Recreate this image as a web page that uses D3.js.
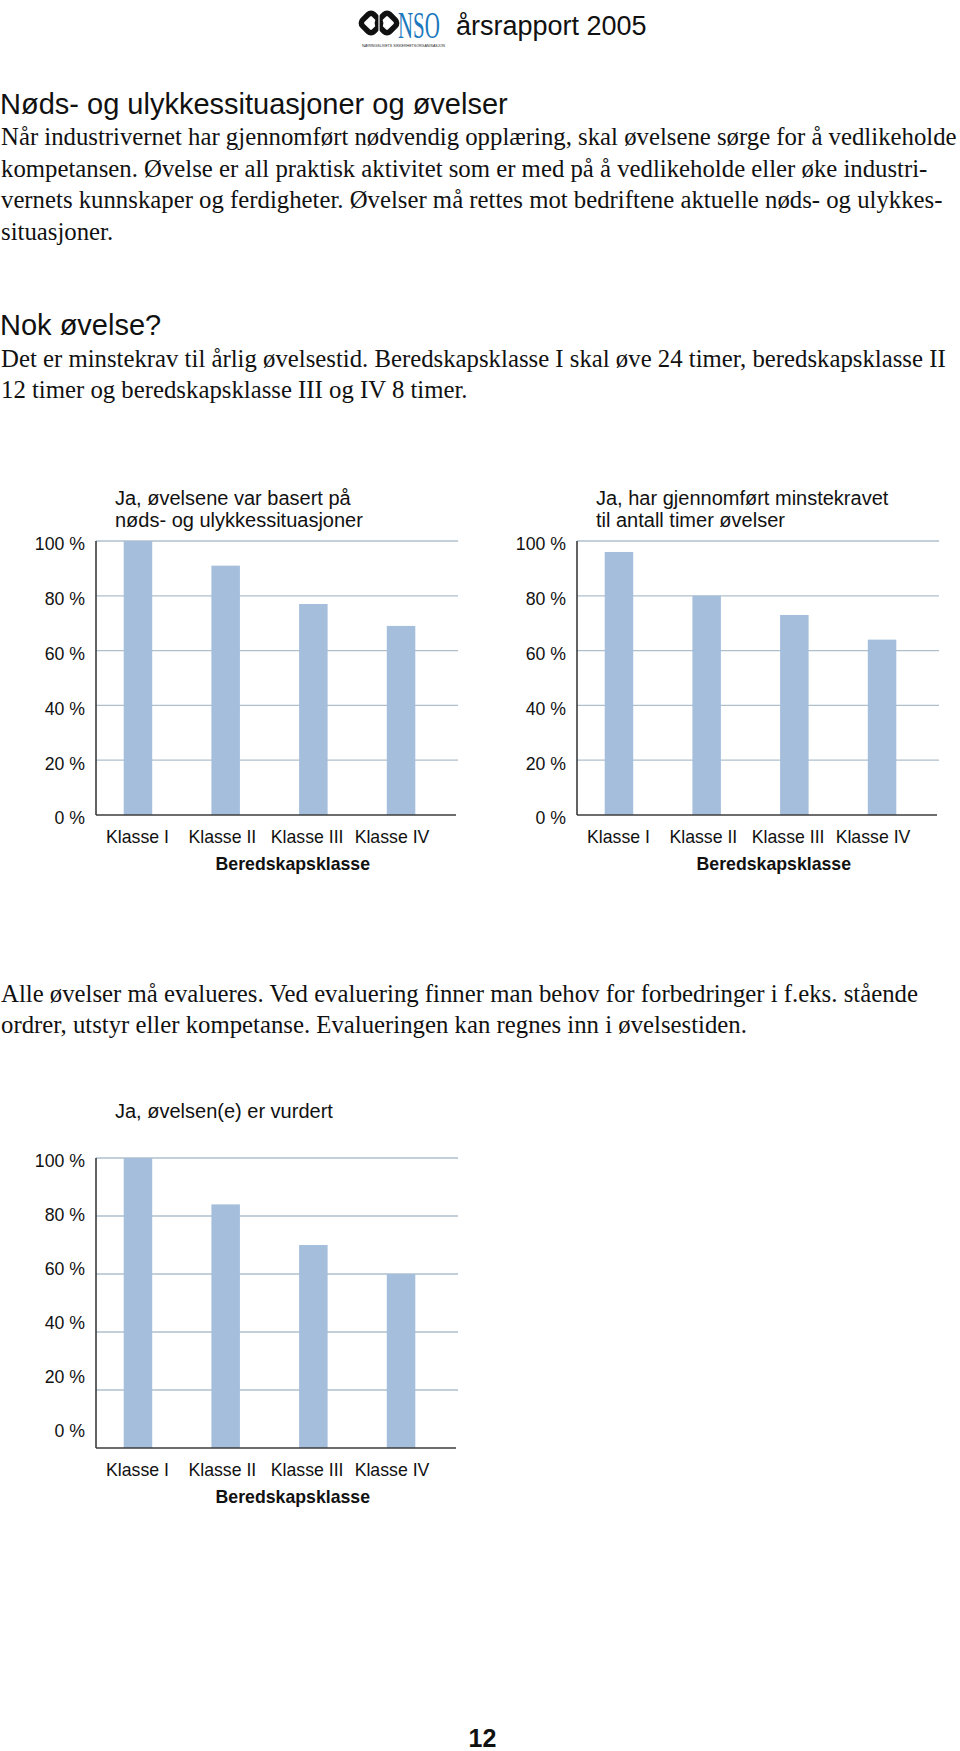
<!DOCTYPE html>
<html><head><meta charset="utf-8">
<script src="https://cdn.jsdelivr.net/npm/d3@7"></script>
<style>body{margin:0;background:#fff} svg{display:block}</style>
</head><body>
<svg id="page" width="960" height="1751"></svg>
<script>
// ---------- DATA ----------
const categories = ["Klasse I", "Klasse II", "Klasse III", "Klasse IV"];
const valuesBasert = [100, 91, 77, 69];
const valuesMinstekrav = [96, 80, 73, 64];
const valuesVurdert = [100, 84, 70, 60];
const yTicks = [0, 20, 40, 60, 80, 100];
const tickFormat = d => d + " %";
const axisTitle = "Beredskapsklasse";
const titleBasert = ["Ja, øvelsene var basert på", "nøds- og ulykkessituasjoner"];
const titleMinstekrav = ["Ja, har gjennomført minstekravet", "til antall timer øvelser"];
const titleVurdert = ["Ja, øvelsen(e) er vurdert"];

const heading1 = "Nøds- og ulykkessituasjoner og øvelser";
const para1 = [
  "Når industrivernet har gjennomført nødvendig opplæring, skal øvelsene sørge for å vedlikeholde",
  "kompetansen. Øvelse er all praktisk aktivitet som er med på å vedlikeholde eller øke industri-",
  "vernets kunnskaper og ferdigheter. Øvelser må rettes mot bedriftene aktuelle nøds- og ulykkes-",
  "situasjoner."
];
const heading2 = "Nok øvelse?";
const para2 = [
  "Det er minstekrav til årlig øvelsestid. Beredskapsklasse I skal øve 24 timer, beredskapsklasse II",
  "12 timer og beredskapsklasse III og IV 8 timer."
];
const para3 = [
  "Alle øvelser må evalueres. Ved evaluering finner man behov for forbedringer i f.eks. stående",
  "ordrer, utstyr eller kompetanse. Evalueringen kan regnes inn i øvelsestiden."
];
const headerText = "årsrapport 2005";
const logoText = "NSO";
const logoSubText = "NÆRINGSLIVETS SIKKERHETSORGANISASJON";
const pageNumber = "12";

// ---------- STYLE ----------
const SANS = "'Liberation Sans', Arial, Helvetica, sans-serif";
const SERIF = "'Liberation Serif', 'Times New Roman', serif";
const BAR = "#a4bedc", GRID = "#afbfcc", AXIS = "#3c3c3c";

const svg = d3.select("#page");

// ---------- HEADER ----------
const logo = svg.append("g");
[[371, 23], [387, 23]].forEach(([cx, cy]) => {
  logo.append("rect").attr("x", cx - 8).attr("y", cy - 8).attr("width", 16).attr("height", 16)
    .attr("rx", 4).attr("transform", `rotate(45 ${cx} ${cy})`)
    .attr("fill", "none").attr("stroke", "#111").attr("stroke-width", 5.5);
});
logo.append("line").attr("x1", 379).attr("y1", 13).attr("x2", 379).attr("y2", 33)
  .attr("stroke", "#fff").attr("stroke-width", 1.2);
// condensed "NSO" via horizontal scaling
const nso = logo.append("g").attr("transform", "translate(398,37.5) scale(0.523,0.95)");
nso.append("text").attr("x", 0).attr("y", 0).attr("font-family", SERIF)
  .attr("font-size", 40).attr("fill", "#1b78bd").text(logoText);
logo.append("text").attr("x", 362).attr("y", 46.5).attr("font-family", SANS)
  .attr("font-size", 3.2).attr("fill", "#222").attr("textLength", 83)
  .attr("lengthAdjust", "spacingAndGlyphs").text(logoSubText);
svg.append("text").attr("x", 456).attr("y", 35).attr("font-family", SANS)
  .attr("font-size", 27).attr("fill", "#111").text(headerText);

// ---------- BODY TEXT ----------
const probe = svg.append("text").attr("font-family", SERIF).attr("font-size", 20).text(para1[0]);
const bodyFs = 20 * 956 / probe.node().getComputedTextLength();
probe.remove();

function heading(txt, y) {
  svg.append("text").attr("x", 0).attr("y", y).attr("font-family", SANS)
    .attr("font-size", 29).attr("fill", "#111").text(txt);
}
function paragraph(lines, y0, lh) {
  svg.append("g").selectAll("text").data(lines).join("text")
    .attr("x", 1).attr("y", (d, i) => y0 + i * lh)
    .attr("font-family", SERIF).attr("font-size", bodyFs).attr("fill", "#111")
    .text(d => d);
}
heading(heading1, 114);
paragraph(para1, 145, 31.7);
heading(heading2, 335);
paragraph(para2, 366.7, 31.7);
paragraph(para3, 1001.7, 30.8);

// ---------- CHARTS ----------
function drawChart(cfg) {
  const g = svg.append("g");
  const x0 = cfg.x0, W = 360;
  const x = d3.scaleBand().domain(categories).range([x0, x0 + W])
    .paddingInner(0.675).paddingOuter(0.39).align(0.405);
  const xl = d3.scalePoint().domain(categories).range([x0 + 41.5, x0 + 296]);
  const y = d3.scaleLinear().domain([0, 100]).range([cfg.bottom, cfg.top]);
  // tick label positions (in the original the label column is not always stretched with the grid)
  const yl = d3.scaleLinear().domain([0, 100]).range(cfg.labelRange || [cfg.bottom, cfg.top]);

  // gridlines
  g.append("g").selectAll("line").data(yTicks.filter(d => d > 0)).join("line")
    .attr("x1", x0).attr("x2", x0 + W + 2)
    .attr("y1", d => y(d)).attr("y2", d => y(d))
    .attr("stroke", GRID).attr("stroke-width", 1.3);

  // bars
  g.append("g").selectAll("rect").data(cfg.values).join("rect")
    .attr("x", (d, i) => x(categories[i])).attr("width", x.bandwidth())
    .attr("y", d => y(d)).attr("height", d => y(0) - y(d))
    .attr("fill", BAR);

  // y axis labels
  const ya = g.append("g").attr("transform", `translate(${x0},0)`)
    .call(d3.axisLeft(yl).tickValues(yTicks).tickFormat(tickFormat).tickSize(0).tickPadding(11));
  ya.select(".domain").remove();
  ya.attr("font-family", SANS).attr("font-size", 17.7);
  ya.selectAll("text").attr("dy", "0.5em").attr("fill", "#111");

  // axis lines
  g.append("line").attr("x1", x0).attr("x2", x0).attr("y1", y(100)).attr("y2", y(0))
    .attr("stroke", AXIS).attr("stroke-width", 1.6);
  g.append("line").attr("x1", x0).attr("x2", x0 + W).attr("y1", y(0)).attr("y2", y(0))
    .attr("stroke", AXIS).attr("stroke-width", 1.6);

  // x labels
  g.append("g").selectAll("text").data(categories).join("text")
    .attr("x", d => xl(d)).attr("y", y(0) + 28)
    .attr("text-anchor", "middle").attr("font-family", SANS).attr("font-size", 17.7)
    .attr("fill", "#111").text(d => d);
  g.append("text").attr("x", x0 + 196.8).attr("y", y(0) + 55)
    .attr("text-anchor", "middle").attr("font-family", SANS).attr("font-size", 17.7)
    .attr("font-weight", "bold").attr("fill", "#111").text(axisTitle);

  // title
  g.append("g").selectAll("text").data(cfg.title).join("text")
    .attr("x", x0 + 19).attr("y", (d, i) => cfg.titleY + i * 22)
    .attr("font-family", SANS).attr("font-size", 20).attr("fill", "#111").text(d => d);
}

drawChart({x0: 96, top: 541, bottom: 815, values: valuesBasert, title: titleBasert, titleY: 505});
drawChart({x0: 577, top: 541, bottom: 815, values: valuesMinstekrav, title: titleMinstekrav, titleY: 505});
drawChart({x0: 96, top: 1158, bottom: 1448, labelRange: [1428, 1158],
           values: valuesVurdert, title: titleVurdert, titleY: 1117.7});

// ---------- PAGE NUMBER ----------
svg.append("text").attr("x", 482.5).attr("y", 1747).attr("text-anchor", "middle")
  .attr("font-family", SANS).attr("font-size", 25).attr("font-weight", "bold")
  .attr("fill", "#111").text(pageNumber);
</script>
</body></html>
